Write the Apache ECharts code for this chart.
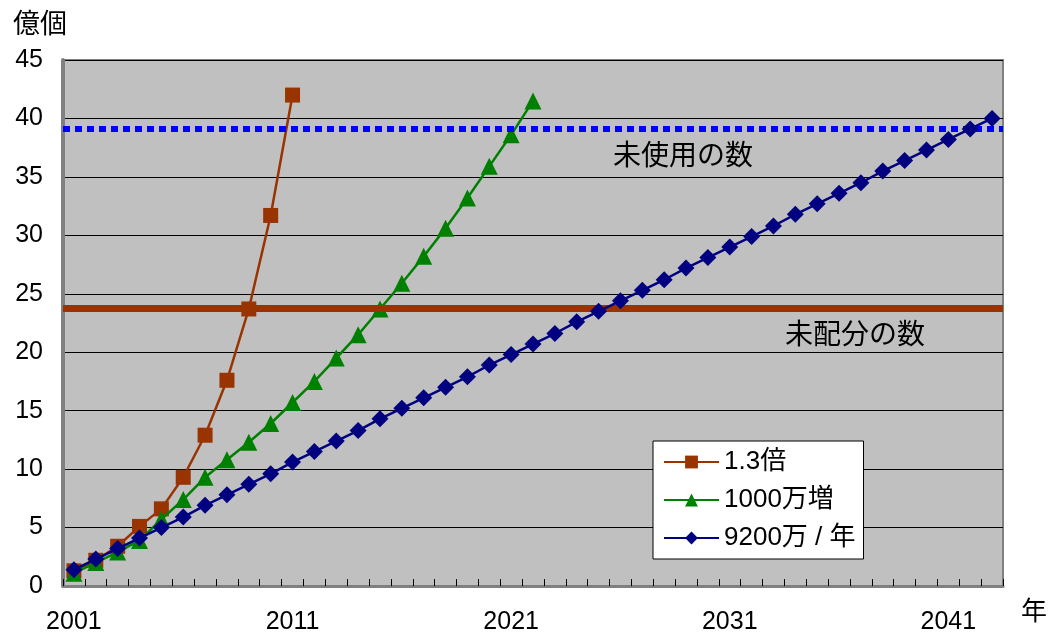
<!DOCTYPE html>
<html>
<head>
<meta charset="utf-8">
<script src="https://cdn.jsdelivr.net/npm/echarts@6/dist/echarts.min.js"></script>
<style>
  html, body { margin: 0; padding: 0; background: #fff; }
  #chart { width: 1048px; height: 632px; }
</style>
</head>
<body>
<div id="chart"></div>
<script>
// years 2001..2043 (category axis)
const years = [];
for (let y = 2001; y <= 2043; y++) years.push(String(y));

// 億個
const growth13 = [1.3, 2.2, 3.4, 5.1, 6.6, 9.3, 12.9, 17.6, 23.7, 31.7, 42.0];
const plus1000 = [1.1, 2.0, 2.9, 3.9, 5.7, 7.4, 9.3, 10.8, 12.3, 13.9, 15.7,
  17.5, 19.5, 21.5, 23.7, 25.9, 28.2, 30.6, 33.2, 35.9, 38.6, 41.5];
const per9200 = [1.4, 2.3, 3.2, 4.1, 5.0, 5.9, 6.9, 7.8, 8.7, 9.6, 10.6,
  11.5, 12.4, 13.3, 14.3, 15.2, 16.1, 17.0, 17.9, 18.9, 19.8, 20.7,
  21.6, 22.6, 23.5, 24.4, 25.3, 26.2, 27.2, 28.1, 29.0, 29.9, 30.8,
  31.8, 32.7, 33.6, 34.5, 35.5, 36.4, 37.3, 38.2, 39.1, 40.0];

const unusedCount = 39.1;      // 未使用の数
const unallocatedCount = 23.8; // 未配分の数

const seriesNames = ["1.3倍", "1000万増", "9200万 / 年"];

const font = "'Liberation Sans', Arial, 'Noto Sans CJK JP', sans-serif";

const chart = echarts.init(document.getElementById("chart"));

chart.setOption({
  animation: false,
  textStyle: { fontFamily: font, color: "#000" },
  title: {
    text: "億個",
    left: 8,
    top: 7,
    textStyle: { fontSize: 27, fontWeight: "normal", color: "#000", fontFamily: font },
  },
  grid: {
    left: 63,
    right: 45,
    top: 60,
    bottom: 46,
    outerBoundsMode: "none",
    containLabel: false,
    show: true,
    backgroundColor: "#C0C0C0",
    borderColor: "#808080",
    borderWidth: 2,
  },
  legend: {
    orient: "vertical",
    left: 653,
    top: 441,
    data: seriesNames,
    backgroundColor: "#fff",
    borderColor: "#000",
    borderWidth: 1,
    borderRadius: 0,
    padding: [8, 8, 8, 10],
    itemWidth: 55,
    itemHeight: 16,
    itemGap: 12,
    textStyle: { fontSize: 26, color: "#000", fontFamily: font },
  },
  xAxis: {
    type: "category",
    data: years,
    boundaryGap: true,
    name: "年",
    nameLocation: "end",
    nameGap: 18,
    nameTextStyle: { fontSize: 26, verticalAlign: "top", padding: [14, 0, 0, 0], color: "#000" },
    axisLine: { lineStyle: { color: "#808080", width: 3 } },
    axisTick: { show: true, inside: true, length: 7, interval: 0, lineStyle: { color: "#000", width: 1 } },
    axisLabel: { interval: 9, fontSize: 25, margin: 24, color: "#000" },
    splitLine: { show: false },
  },
  yAxis: {
    type: "value",
    min: 0,
    max: 45,
    interval: 5,
    axisLine: { show: true, lineStyle: { color: "#808080", width: 4 } },
    axisTick: { show: false },
    axisLabel: { fontSize: 25, margin: 20, color: "#000" },
    splitLine: { show: true, lineStyle: { color: "#000", width: 1 } },
  },
  series: [
    {
      name: "limits",
      type: "line",
      data: [],
      z: 1,
      markLine: {
        silent: true,
        symbol: "none",
        animation: false,
        data: [
          {
            yAxis: unusedCount,
            lineStyle: { color: "#0000FF", width: 6, type: [7, 5] },
            label: {
              show: true,
              formatter: "未使用の数",
              position: "insideMiddleBottom",
              distance: 14,
              offset: [150, 0],
              fontSize: 28,
              color: "#000",
              fontFamily: font,
            },
          },
          {
            yAxis: unallocatedCount,
            lineStyle: { color: "#993300", width: 7, type: "solid" },
            label: {
              show: true,
              formatter: "未配分の数",
              position: "insideMiddleBottom",
              distance: 14,
              offset: [322, 0],
              fontSize: 28,
              color: "#000",
              fontFamily: font,
            },
          },
        ],
      },
    },
    {
      name: seriesNames[0],
      type: "line",
      data: growth13,
      z: 3,
      showAllSymbol: true,
      symbol: "rect",
      symbolSize: 15,
      lineStyle: { color: "#993300", width: 2.5 },
      itemStyle: { color: "#993300", borderRadius: 2 },
    },
    {
      name: seriesNames[1],
      type: "line",
      data: plus1000,
      z: 4,
      showAllSymbol: true,
      symbol: "triangle",
      symbolSize: 17,
      lineStyle: { color: "#008000", width: 2.5 },
      itemStyle: { color: "#008000" },
    },
    {
      name: seriesNames[2],
      type: "line",
      data: per9200,
      z: 5,
      showAllSymbol: true,
      symbol: "diamond",
      symbolSize: 17,
      lineStyle: { color: "#000080", width: 2.5 },
      itemStyle: { color: "#000080" },
    },
  ],
});
</script>
</body>
</html>
